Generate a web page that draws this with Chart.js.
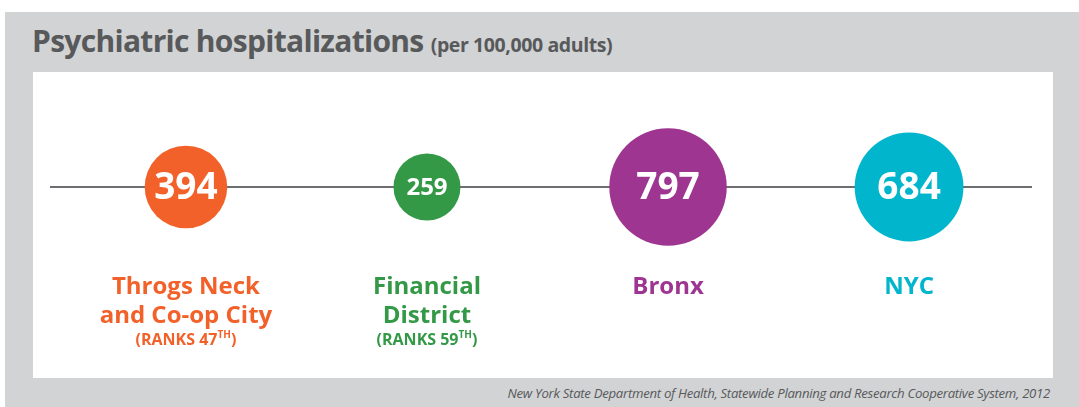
<!DOCTYPE html>
<html>
<head>
<meta charset="utf-8">
<script src="https://cdn.jsdelivr.net/npm/chart.js@4"></script>
<style>
  html, body { margin: 0; padding: 0; background: #fff; }
  #wrap { position: relative; width: 1079px; height: 407px; overflow: hidden; font-family: 'Open Sans', sans-serif; }
  #bg { position: absolute; left: 5px; top: 12px; width: 1074px; height: 395px; background: #d1d3d4; }
  #panel { position: absolute; left: 33px; top: 72px; width: 1020px; height: 306px; background: #fff; }
  #title { position: absolute; left: 32px; top: 20px; color: #58595b; font-weight: 700; font-size: 30px; letter-spacing: -0.7px; white-space: nowrap; }
  #title small { font-size: 19.5px; letter-spacing: -0.4px; }
  #source { position: absolute; right: 29px; top: 384px; color: #58595b; font-style: italic; font-size: 13.2px; letter-spacing: -0.3px; white-space: nowrap; }
  canvas { position: absolute; left: 0; top: 0; }
</style>
</head>
<body>
<div id="wrap">
  <div id="bg"></div>
  <div id="panel"></div>
  <div id="title">Psychiatric hospitalizations <small>(per 100,000 adults)</small></div>
  <div id="source">New York State Department of Health, Statewide Planning and Research Cooperative System, 2012</div>
  <canvas id="chart" width="1079" height="407"></canvas>
</div>
<script>
const categories = ['Throgs Neck and Co-op City', 'Financial District', 'Bronx', 'NYC'];
const nameLines = [['Throgs Neck', 'and Co-op City'], ['Financial', 'District'], ['Bronx'], ['NYC']];
const ranks = ['47', '59', null, null];
const values = [394, 259, 797, 684];
const colors = ['#f26129', '#339947', '#9e3591', '#00b5cc'];

const LINE_COLOR = '#6d6e71';
const X_MIN = -0.564, X_MAX = 3.51;

// bubble area proportional to value
const radius = v => 2.08 * Math.sqrt(v);

const labelPlugin = {
    id: 'labels',
    afterDatasetsDraw(chart) {
        const ctx = chart.ctx;
        const xs = chart.scales.x, ys = chart.scales.y;
        const cy = ys.getPixelForValue(0);
        ctx.save();
        ctx.textAlign = 'center';
        values.forEach((v, i) => {
            const cx = xs.getPixelForValue(i);
            // value inside bubble
            const fs = v < 300 ? 24 : 37;
            ctx.fillStyle = '#fff';
            ctx.font = `700 ${fs}px "Open Sans"`;
            ctx.textBaseline = 'middle';
            ctx.fillText(String(v), cx, cy + 1);
            // category name
            ctx.textBaseline = 'alphabetic';
            ctx.fillStyle = colors[i];
            ctx.font = '700 24px "Open Sans"';
            nameLines[i].forEach((t, j) => ctx.fillText(t, cx, 294 + j * 29));
            // rank
            if (ranks[i]) {
                const main = `(RANKS ${ranks[i]}`;
                ctx.font = '700 16px "Open Sans"';
                const w1 = ctx.measureText(main).width;
                const w3 = ctx.measureText(')').width;
                ctx.font = '700 10px "Open Sans"';
                const w2 = ctx.measureText('TH').width;
                let x = cx - (w1 + w2 + w3) / 2;
                ctx.textAlign = 'left';
                ctx.font = '700 16px "Open Sans"';
                ctx.fillText(main, x, 345);
                ctx.font = '700 10px "Open Sans"';
                ctx.fillText('TH', x + w1, 338);
                ctx.font = '700 16px "Open Sans"';
                ctx.fillText(')', x + w1 + w2, 345);
                ctx.textAlign = 'center';
            }
        });
        ctx.restore();
    }
};

new Chart(document.getElementById('chart'), {
    type: 'bubble',
    data: {
        labels: categories,
        datasets: [{
            data: values.map((v, i) => ({ x: i, y: 0, r: radius(v) })),
            backgroundColor: colors,
            borderWidth: 0,
            hoverRadius: 0,
            clip: false,
            order: 1
        }, {
            type: 'line',
            data: [{ x: X_MIN, y: 0 }, { x: X_MAX, y: 0 }],
            borderColor: LINE_COLOR,
            borderWidth: 2,
            pointRadius: 0,
            order: 2
        }]
    },
    options: {
        responsive: false,
        animation: false,
        events: [],
        layout: { autoPadding: false, padding: { left: 50, right: 47, top: 127, bottom: 160 } },
        plugins: { legend: { display: false }, tooltip: { enabled: false }, title: { display: false } },
        scales: {
            x: { type: 'linear', min: X_MIN, max: X_MAX, display: false },
            y: { min: -1, max: 1, display: false }
        }
    },
    plugins: [labelPlugin]
});
</script>
</body>
</html>
